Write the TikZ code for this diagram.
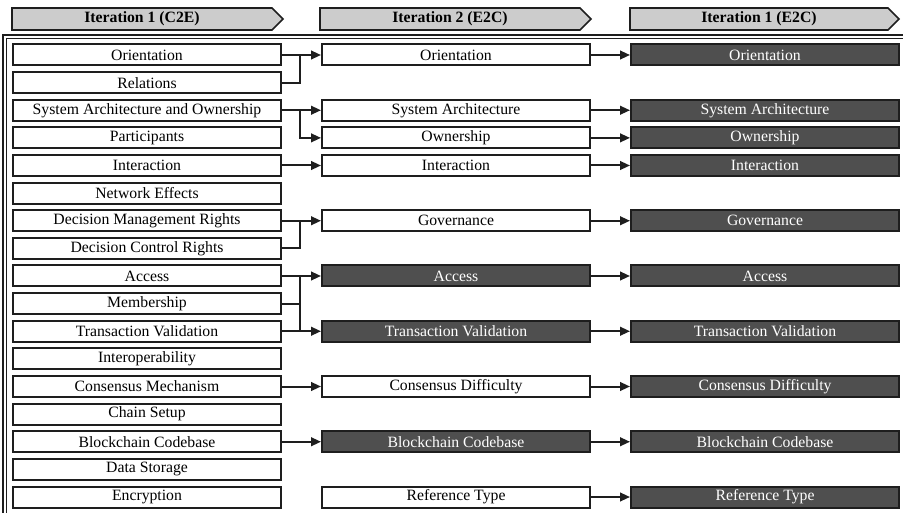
\documentclass[tikz,border=0pt]{standalone}
\usepackage{fontspec}
\setmainfont{Liberation Serif}
\usetikzlibrary{arrows.meta}

\definecolor{edge}{HTML}{1E1E1E}
\definecolor{headfill}{HTML}{CCCCCC}
\definecolor{darkfill}{HTML}{4F4F4F}

\tikzset{
  wbox/.style={draw=edge, line width=1.5pt, fill=white, minimum width=201pt,
    minimum height=15.75pt, inner sep=0pt, font=\fontsize{11.8}{13}\selectfont},
  dbox/.style={wbox, fill=darkfill, text=white},
  headtxt/.style={inner sep=0pt, font=\fontsize{11.8}{13}\selectfont\bfseries},
  headshape/.style={draw=edge, line width=1.2pt, fill=headfill, line join=miter},
  link/.style={draw=edge, line width=1.5pt},
  arr/.style={link, -{Triangle[length=7.5pt,width=6.5pt]}},
}

\begin{document}
\begin{tikzpicture}[x=0.75pt,y=-0.75pt]
\useasboundingbox (0,0) rectangle (903,513);

% frame: heavy outer rule with a thin inner rule
\draw[edge, line width=1.6pt] (903,35) -- (3,35) -- (3,513);
\draw[edge, line width=0.6pt] (903,38) -- (6.5,38) -- (6.5,513);

% column headers (chevron bars)
\foreach \xa/\xb/\nm/\lbl in {12/272/h1/{Iteration 1 (C2E)},
                               320/580/h2/{Iteration 2 (E2C)},
                               630/888/h3/{Iteration 1 (E2C)}} {
  \draw[headshape] (\xa,8) -- (\xb,8) -- (\xb+11,19) -- (\xb,30) -- (\xa,30) -- cycle;
  \node[headtxt] (\nm) at ({(\xa+\xb)/2},19) {\lbl};
}

% first column
\foreach \i/\t in {1/Orientation, 2/Relations, 3/System Architecture and Ownership,
  4/Participants, 5/Interaction, 6/Network Effects, 7/Decision Management Rights,
  8/Decision Control Rights, 9/Access, 10/Membership, 11/Transaction Validation,
  12/Interoperability, 13/Consensus Mechanism, 14/Chain Setup,
  15/Blockchain Codebase, 16/Data Storage, 17/Encryption} {
  \node[wbox] (L\i) at (147,{55+27.625*(\i-1)}) {\t};
}

% second column
\foreach \i/\s/\t in {1/wbox/Orientation, 3/wbox/System Architecture, 4/wbox/Ownership,
  5/wbox/Interaction, 7/wbox/Governance, 9/dbox/Access,
  11/dbox/Transaction Validation, 13/wbox/Consensus Difficulty,
  15/dbox/Blockchain Codebase, 17/wbox/Reference Type} {
  \node[\s] (M\i) at (456,{55+27.625*(\i-1)}) {\t};
}

% third column
\foreach \i/\t in {1/Orientation, 3/System Architecture, 4/Ownership,
  5/Interaction, 7/Governance, 9/Access, 11/Transaction Validation,
  13/Consensus Difficulty, 15/Blockchain Codebase, 17/Reference Type} {
  \node[dbox] (R\i) at (765,{55+27.625*(\i-1)}) {\t};
}

% junction points between first and second column
\foreach \i in {1,3,7,9,10,11} {
  \coordinate (j\i) at (300,{55+27.625*(\i-1)});
}

% first -> second column
\draw[arr] (L1.east) -- (M1.west);
\draw[link] (L2.east) -| (j1);
\draw[arr] (L3.east) -- (M3.west);
\draw[arr] (j3) |- (M4.west);
\draw[arr] (L5.east) -- (M5.west);
\draw[arr] (L7.east) -- (M7.west);
\draw[link] (L8.east) -| (j7);
\draw[arr] (L9.east) -- (M9.west);
\draw[link] (L10.east) -- (j10);
\draw[arr] (L11.east) -- (M11.west);
\draw[link] (j9) -- (j11);
\draw[arr] (L13.east) -- (M13.west);
\draw[arr] (L15.east) -- (M15.west);

% second -> third column
\foreach \i in {1,3,4,5,7,9,11,13,15,17} {
  \draw[arr] (M\i.east) -- (R\i.west);
}
\end{tikzpicture}
\end{document}
